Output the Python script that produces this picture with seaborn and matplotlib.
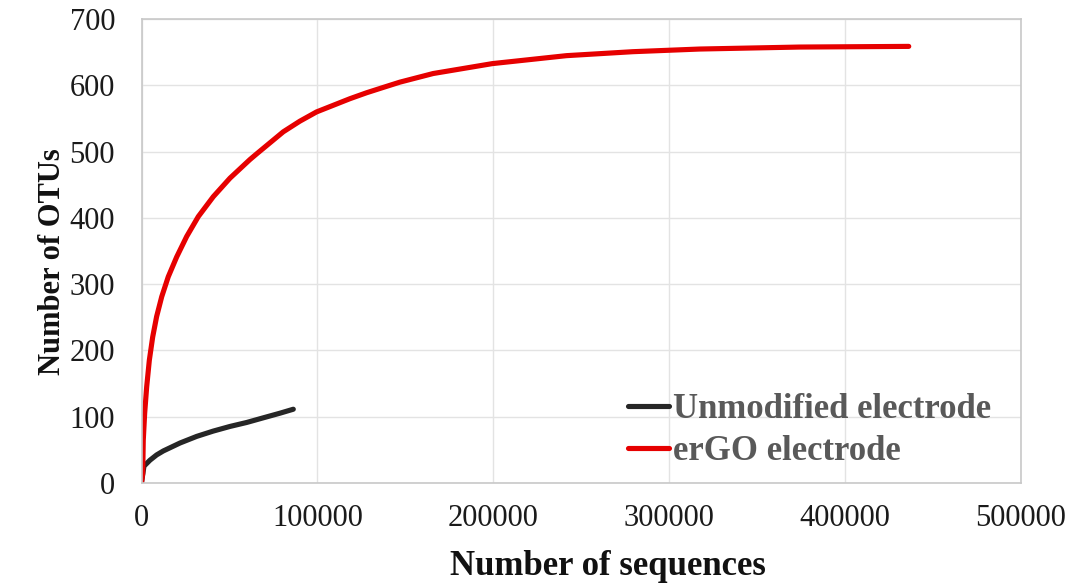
import numpy as np
import pandas as pd
import matplotlib
matplotlib.use("Agg")
import matplotlib.pyplot as plt
import seaborn as sns

# Rarefaction curves: sequences sampled vs. observed OTUs
unmod_seqs = [0, 1400, 4800, 8600, 12400, 21900, 31400, 40800, 50300,
              59800, 69200, 78700, 86300]
unmod_otus = [0, 25, 34, 42, 48, 60, 70, 78, 85, 91, 98, 105, 111]

ergo_seqs = [0, 680, 1000, 1800, 2950, 4450, 6350, 8600, 11500, 15200,
             20000, 25700, 32300, 40800, 50300, 61600, 65600, 80600, 90000,
             99500, 118500, 128000, 137400, 146900, 165800, 199500, 241600,
             279400, 317300, 374100, 436200]
ergo_otus = [0, 14, 64, 105, 145, 185, 220, 251, 281, 311,
             341, 372, 402, 432, 460, 488, 497, 530, 546,
             560, 580, 589, 597, 605, 618, 633, 645,
             651, 655, 658, 659]

series_names = ["Unmodified electrode", "erGO electrode"]
series_colors = ["#262626", "#e60000"]

x_ticks = [0, 100000, 200000, 300000, 400000, 500000]
y_ticks = [0, 100, 200, 300, 400, 500, 600, 700]

df = pd.concat([
    pd.DataFrame({"seqs": unmod_seqs, "otus": unmod_otus, "sample": series_names[0]}),
    pd.DataFrame({"seqs": ergo_seqs, "otus": ergo_otus, "sample": series_names[1]}),
], ignore_index=True)

sns.set_theme(style="whitegrid")
plt.rcParams["font.family"] = ["Liberation Serif", "DejaVu Serif"]

fig = plt.figure(figsize=(10.72, 5.83), dpi=100)
ax = fig.add_axes([0.1320, 0.172, 0.8204, 0.795])

sns.lineplot(data=df, x="seqs", y="otus", hue="sample", hue_order=series_names,
             palette=series_colors, linewidth=3.7, ax=ax, sort=False,
             estimator=None, solid_capstyle="round", solid_joinstyle="round")

ax.set_xlim(0, 500000)
ax.set_ylim(0, 700)
ax.set_xticks(x_ticks)
ax.set_xticklabels([str(v) for v in x_ticks])
ax.set_yticks(y_ticks)
ax.set_yticklabels([str(v) for v in y_ticks])

ax.grid(True, color="#e3e3e3", linewidth=1.0)
for side in ["left", "right", "top", "bottom"]:
    ax.spines[side].set_visible(True)
    ax.spines[side].set_color("#c8c8c8")
    ax.spines[side].set_linewidth(1.2)

ax.tick_params(axis="both", length=0, labelsize=22, colors="#1a1a1a")
ax.tick_params(axis="y", pad=19)
ax.tick_params(axis="x", pad=15)

ax.set_xlabel("Number of sequences", fontsize=25, fontweight="bold",
              color="#111111", va="baseline")
ax.xaxis.set_label_coords(0.530, -0.199)
ax.set_ylabel("Number of OTUs", fontsize=22, fontweight="bold",
              color="#111111", va="center")
ax.yaxis.set_label_coords(-0.101, 0.478)

leg = ax.legend(loc="lower right", bbox_to_anchor=(0.9665, 0.032), frameon=False,
                fontsize=25, handlelength=1.2, handletextpad=0.12,
                labelspacing=0.26, borderaxespad=0.0, borderpad=0.0)
for txt in leg.get_texts():
    txt.set_color("#595959")
    txt.set_fontweight("bold")
for line in leg.get_lines():
    line.set_linewidth(3.7)

fig.savefig("out.png", dpi=100, facecolor="white")
